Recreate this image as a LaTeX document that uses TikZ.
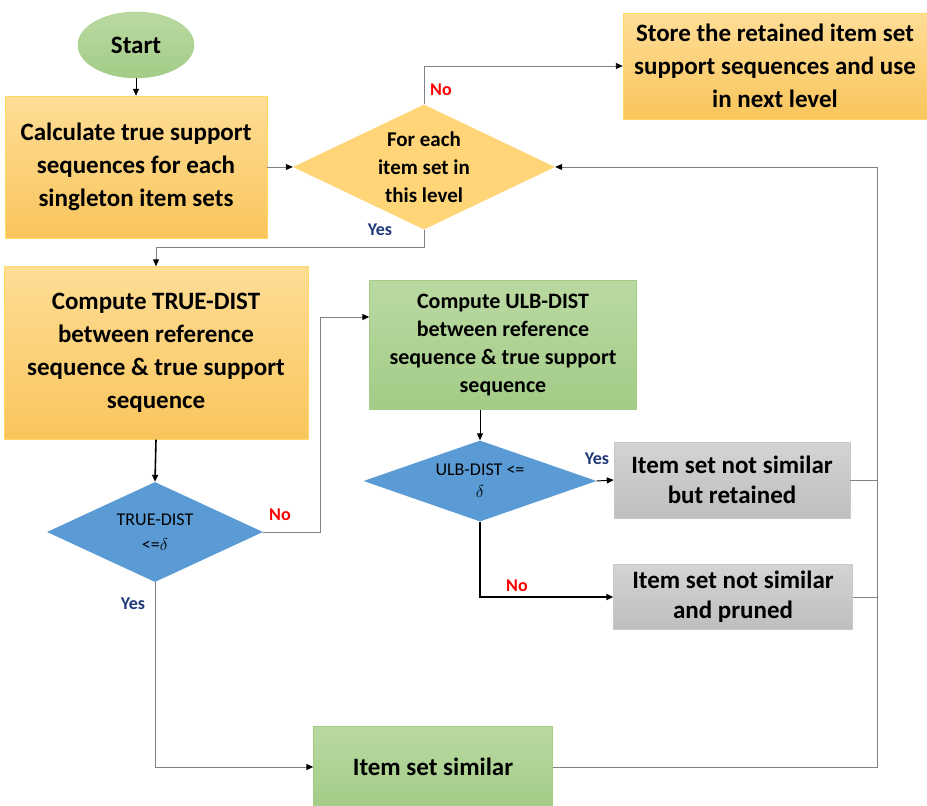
\documentclass[tikz,border=0pt]{standalone}
\usepackage{fontspec}
\setmainfont{Carlito}
\usetikzlibrary{arrows.meta, shapes.geometric}
\definecolor{orangetop}{RGB}{254, 221, 150}
\definecolor{orangebot}{RGB}{249, 197, 92}
\definecolor{orangeline}{RGB}{255, 217, 102}
\definecolor{greentop}{RGB}{186, 217, 162}
\definecolor{greenbot}{RGB}{163, 204, 135}
\definecolor{greenline}{RGB}{160, 205, 130}
\definecolor{graytop}{RGB}{212, 212, 212}
\definecolor{graybot}{RGB}{190, 190, 190}
\definecolor{grayline}{RGB}{200, 200, 200}
\definecolor{decblue}{RGB}{91, 155, 213}
\definecolor{decorange}{RGB}{255, 213, 120}
\definecolor{wire}{RGB}{128, 128, 128}
\definecolor{yesblue}{RGB}{31, 56, 120}
\definecolor{nored}{RGB}{255, 0, 0}
\tikzset{%
    orangebox/.style={rectangle, draw=orangeline, top color=orangetop,
        bottom color=orangebot, align=center, inner sep=0pt},
    greenbox/.style={rectangle, draw=greenline, top color=greentop,
        bottom color=greenbot, align=center, inner sep=0pt},
    graybox/.style={rectangle, draw=grayline, top color=graytop,
        bottom color=graybot, align=center, inner sep=0pt},
    decision/.style={diamond, inner sep=0pt, align=center},
    wirearrow/.style={draw=wire, line width=0.9pt,
        -{Triangle[length=7pt, width=6pt, black]}},
    blackarrow/.style={draw=black, line width=1pt,
        -{Triangle[length=7pt, width=6pt]}},
    yeslabel/.style={text=yesblue, font=\fontsize{18}{20}\selectfont\bfseries},
    nolabel/.style={text=nored, font=\fontsize{18}{20}\selectfont\bfseries}
}

\begin{document}
\begin{tikzpicture}[x=1pt, y=-1pt]
    \useasboundingbox (0, 0) rectangle (927, 806);

    % Boxes
    \node[ellipse, draw=greenline, top color=greentop, bottom color=greenbot,
          minimum width=116pt, minimum height=66pt,
          font=\fontsize{25}{28}\selectfont\bfseries] (start) at (136, 45) {Start};

    \node[orangebox, minimum width=262pt, minimum height=142pt,
          font=\fontsize{25}{33}\selectfont\bfseries] (calc) at (136, 167)
        {Calculate true support\\sequences for each\\singleton item sets};

    \node[decision, fill=decorange, aspect=2.1, minimum width=262pt,
          minimum height=125pt, font=\fontsize{21}{28}\selectfont\bfseries]
        (foreach) at (424, 167) {For each\\item set in\\this level};

    \node[orangebox, minimum width=304pt, minimum height=106pt,
          font=\fontsize{25}{33}\selectfont\bfseries] (store) at (775, 66)
        {Store the retained item set\\support sequences and use\\in next level};

    \node[orangebox, minimum width=304pt, minimum height=173pt,
          font=\fontsize{25}{33}\selectfont\bfseries] (truedist) at (156, 353)
        {Compute TRUE-DIST\\between reference\\sequence \& true support\\sequence};

    \node[decision, fill=decblue, aspect=2.16, minimum width=216pt,
          minimum height=100pt, font=\fontsize{18}{25}\selectfont]
        (truecheck) at (155, 532) {TRUE-DIST\\<=$\delta$};

    \node[greenbox, minimum width=267pt, minimum height=129pt,
          font=\fontsize{22}{28}\selectfont\bfseries] (ulbdist) at (503, 345)
        {Compute ULB-DIST\\between reference\\sequence \& true support\\sequence};

    \node[decision, fill=decblue, aspect=2.9, minimum width=233pt,
          minimum height=81pt, font=\fontsize{18}{22}\selectfont]
        (ulbcheck) at (480, 481) {ULB-DIST <=\\$\delta$};

    \node[graybox, minimum width=236pt, minimum height=76pt,
          font=\fontsize{25}{30}\selectfont\bfseries] (retained) at (732, 480)
        {Item set not similar\\but retained};

    \node[graybox, minimum width=239pt, minimum height=65pt,
          font=\fontsize{25}{30}\selectfont\bfseries] (pruned) at (733, 597)
        {Item set not similar\\and pruned};

    \node[greenbox, minimum width=239pt, minimum height=81pt,
          font=\fontsize{25}{28}\selectfont\bfseries] (similar) at (433, 767)
        {Item set similar};

    \coordinate (rail) at (877, 0);

    % Connectors
    \draw[blackarrow] (start) -- (calc);
    \draw[wirearrow] (calc) -- (foreach);
    \draw[wirearrow] (foreach.north) |- (store.west);
    \draw[wirearrow] (foreach.south) -- ++(0, 18) -| (truedist.north);
    \draw[blackarrow, line width=1.6pt] (truedist.south) -- (truecheck.north);
    \draw[wirearrow] (truecheck.east) -- ++(57, 0) |- ([yshift=28pt] ulbdist.west);
    \draw[blackarrow] (ulbcheck.north |- ulbdist.south) -- (ulbcheck.north);
    \draw[blackarrow] (ulbcheck.east) -- (retained.west);
    \draw[blackarrow, line width=1.6pt] (ulbcheck.south) |- (pruned.west);
    \draw[wirearrow] (truecheck.south) |- (similar.west);
    \draw[wirearrow] (similar.east) -| (rail |- foreach.east) -- (foreach.east);
    \draw[draw=wire, line width=0.9pt] (retained.east) -- (rail |- retained.east);
    \draw[draw=wire, line width=0.9pt] (pruned.east) -- (rail |- pruned.east);

    % Labels
    \node[nolabel] (no-store) at (441, 90) {No};
    \node[yeslabel] (yes-each) at (380, 230) {Yes};
    \node[nolabel] (no-true) at (280, 515) {No};
    \node[yeslabel] (yes-true) at (133, 604) {Yes};
    \node[yeslabel] (yes-ulb) at (597, 459) {Yes};
    \node[nolabel] (no-ulb) at (517, 586) {No};

\end{tikzpicture}
\end{document}
